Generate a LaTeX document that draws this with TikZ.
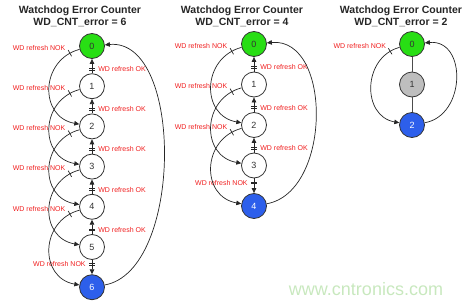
\documentclass[tikz,border=0pt]{standalone}
\usepackage{fontspec}
\setmainfont{Liberation Sans}
\usetikzlibrary{arrows.meta,positioning,decorations.markings}

\definecolor{wdgreen}{RGB}{40,222,20}
\definecolor{wdblue}{RGB}{45,95,235}
\definecolor{wdgray}{RGB}{190,190,190}
\definecolor{wdred}{RGB}{240,30,30}
\definecolor{wmgreen}{RGB}{200,232,190}

\tikzset{
  state/.style={circle, draw=black!80, line width=0.8pt, fill=white,
                minimum size=25pt, inner sep=0pt, text=black!80,
                font=\fontsize{9}{9}\selectfont},
  startstate/.style={state, fill=wdgreen},
  endstate/.style={state, fill=wdblue, text=white},
  unused/.style={state, fill=wdgray},
  title/.style={align=center, text=black!85,
                font=\bfseries\fontsize{10.5}{12}\selectfont},
  lbl/.style={text=wdred, inner sep=1pt, font=\fontsize{7}{8}\selectfont},
  trans/.style={draw=black!85, line width=0.7pt,
                -{Triangle[length=5pt,width=4.5pt]}},
  dbltick/.style={decoration={markings, mark=at position #1 with
                  {\draw[-] (-0.9pt,-3pt) -- (-0.9pt,3pt) (0.9pt,-3pt) -- (0.9pt,3pt);}},
                  postaction=decorate},
  onetick/.style={decoration={markings, mark=at position #1 with
                  {\draw[-] (0,-3.5pt) -- (0,3.5pt);}},
                  postaction=decorate}
}

\begin{document}
\begin{tikzpicture}[x=1pt,y=1pt]
  \useasboundingbox (0,0) rectangle (469,-305);

  % WD_CNT_error = 6
  \node[title] (Ltitle) at (80,-16) {Watchdog Error Counter\\WD\_CNT\_error = 6};
  \node[startstate] (L0) at (92,-46) {0};
  \node[state] (L1) at (92,-86.2) {1};
  \node[state] (L2) at (92,-126.4) {2};
  \node[state] (L3) at (92,-166.6) {3};
  \node[state] (L4) at (92,-206.8) {4};
  \node[state] (L5) at (92,-247) {5};
  \node[endstate] (L6) at (92,-287.2) {6};

  \draw[trans, dbltick=0.3] (L1) -- (L0) node[lbl, pos=0.3, right=5pt] {WD refresh OK};
  \draw[trans, dbltick=0.3] (L2) -- (L1) node[lbl, pos=0.3, right=5pt] {WD refresh OK};
  \draw[trans, dbltick=0.3] (L3) -- (L2) node[lbl, pos=0.3, right=5pt] {WD refresh OK};
  \draw[trans, dbltick=0.3] (L4) -- (L3) node[lbl, pos=0.3, right=5pt] {WD refresh OK};
  \draw[trans, dbltick=0.3] (L5) -- (L4) node[lbl, pos=0.3, right=5pt] {WD refresh OK};
  \draw[trans, dbltick=0.3] (L5) -- (L6) node[lbl, pos=0.3, left=5pt] {WD refresh NOK};

  \draw[trans, onetick=0.1] (L0) to[out=195, in=170, looseness=1.4] node[lbl, pos=0.1, above left=3pt] {WD refresh NOK} (L2);
  \draw[trans, onetick=0.1] (L1) to[out=195, in=170, looseness=1.4] node[lbl, pos=0.1, above left=3pt] {WD refresh NOK} (L3);
  \draw[trans, onetick=0.1] (L2) to[out=195, in=170, looseness=1.4] node[lbl, pos=0.1, above left=3pt] {WD refresh NOK} (L4);
  \draw[trans, onetick=0.1] (L3) to[out=195, in=170, looseness=1.4] node[lbl, pos=0.1, above left=3pt] {WD refresh NOK} (L5);
  \draw[trans, onetick=0.1] (L4) to[out=195, in=170, looseness=1.4] node[lbl, pos=0.1, above left=3pt] {WD refresh NOK} (L6);
  \draw[trans] (L6) to[out=10, in=5, looseness=0.85] (L0);

  % WD_CNT_error = 4
  \node[title] (Mtitle) at (242,-16) {Watchdog Error Counter\\WD\_CNT\_error = 4};
  \node[startstate] (M0) at (254,-44) {0};
  \node[state] (M1) at (254,-84.5) {1};
  \node[state] (M2) at (254,-125) {2};
  \node[state] (M3) at (254,-165.5) {3};
  \node[endstate] (M4) at (254,-206) {4};

  \draw[trans, dbltick=0.3] (M1) -- (M0) node[lbl, pos=0.3, right=5pt] {WD refresh OK};
  \draw[trans, dbltick=0.3] (M2) -- (M1) node[lbl, pos=0.3, right=5pt] {WD refresh OK};
  \draw[trans, dbltick=0.3] (M3) -- (M2) node[lbl, pos=0.3, right=5pt] {WD refresh OK};
  \draw[trans, dbltick=0.3] (M3) -- (M4) node[lbl, pos=0.3, left=5pt] {WD refresh NOK};

  \draw[trans, onetick=0.1] (M0) to[out=195, in=170, looseness=1.4] node[lbl, pos=0.1, above left=3pt] {WD refresh NOK} (M2);
  \draw[trans, onetick=0.1] (M1) to[out=195, in=170, looseness=1.4] node[lbl, pos=0.1, above left=3pt] {WD refresh NOK} (M3);
  \draw[trans, onetick=0.1] (M2) to[out=195, in=170, looseness=1.4] node[lbl, pos=0.1, above left=3pt] {WD refresh NOK} (M4);
  \draw[trans] (M4) to[out=10, in=5, looseness=1.05] (M0);

  % WD_CNT_error = 2
  \node[title] (Rtitle) at (401,-16) {Watchdog Error Counter\\WD\_CNT\_error = 2};
  \node[startstate] (R0) at (412,-44) {0};
  \node[unused] (R1) at (412,-84.5) {1};
  \node[endstate] (R2) at (412,-125) {2};

  \draw[draw=black!70, line width=0.7pt] (R0) -- (R1);
  \draw[draw=black!70, line width=0.7pt] (R1) -- (R2);
  \draw[trans, onetick=0.1] (R0) to[out=195, in=170, looseness=1.3] node[lbl, pos=0.1, above left=3pt] {WD refresh NOK} (R2);
  \draw[trans] (R2) to[out=10, in=5, looseness=1.35] (R0);

  \node[text=wmgreen, font=\fontsize{18}{18}\selectfont] (site) at (366,-289) {www.cntronics.com};
\end{tikzpicture}
\end{document}
